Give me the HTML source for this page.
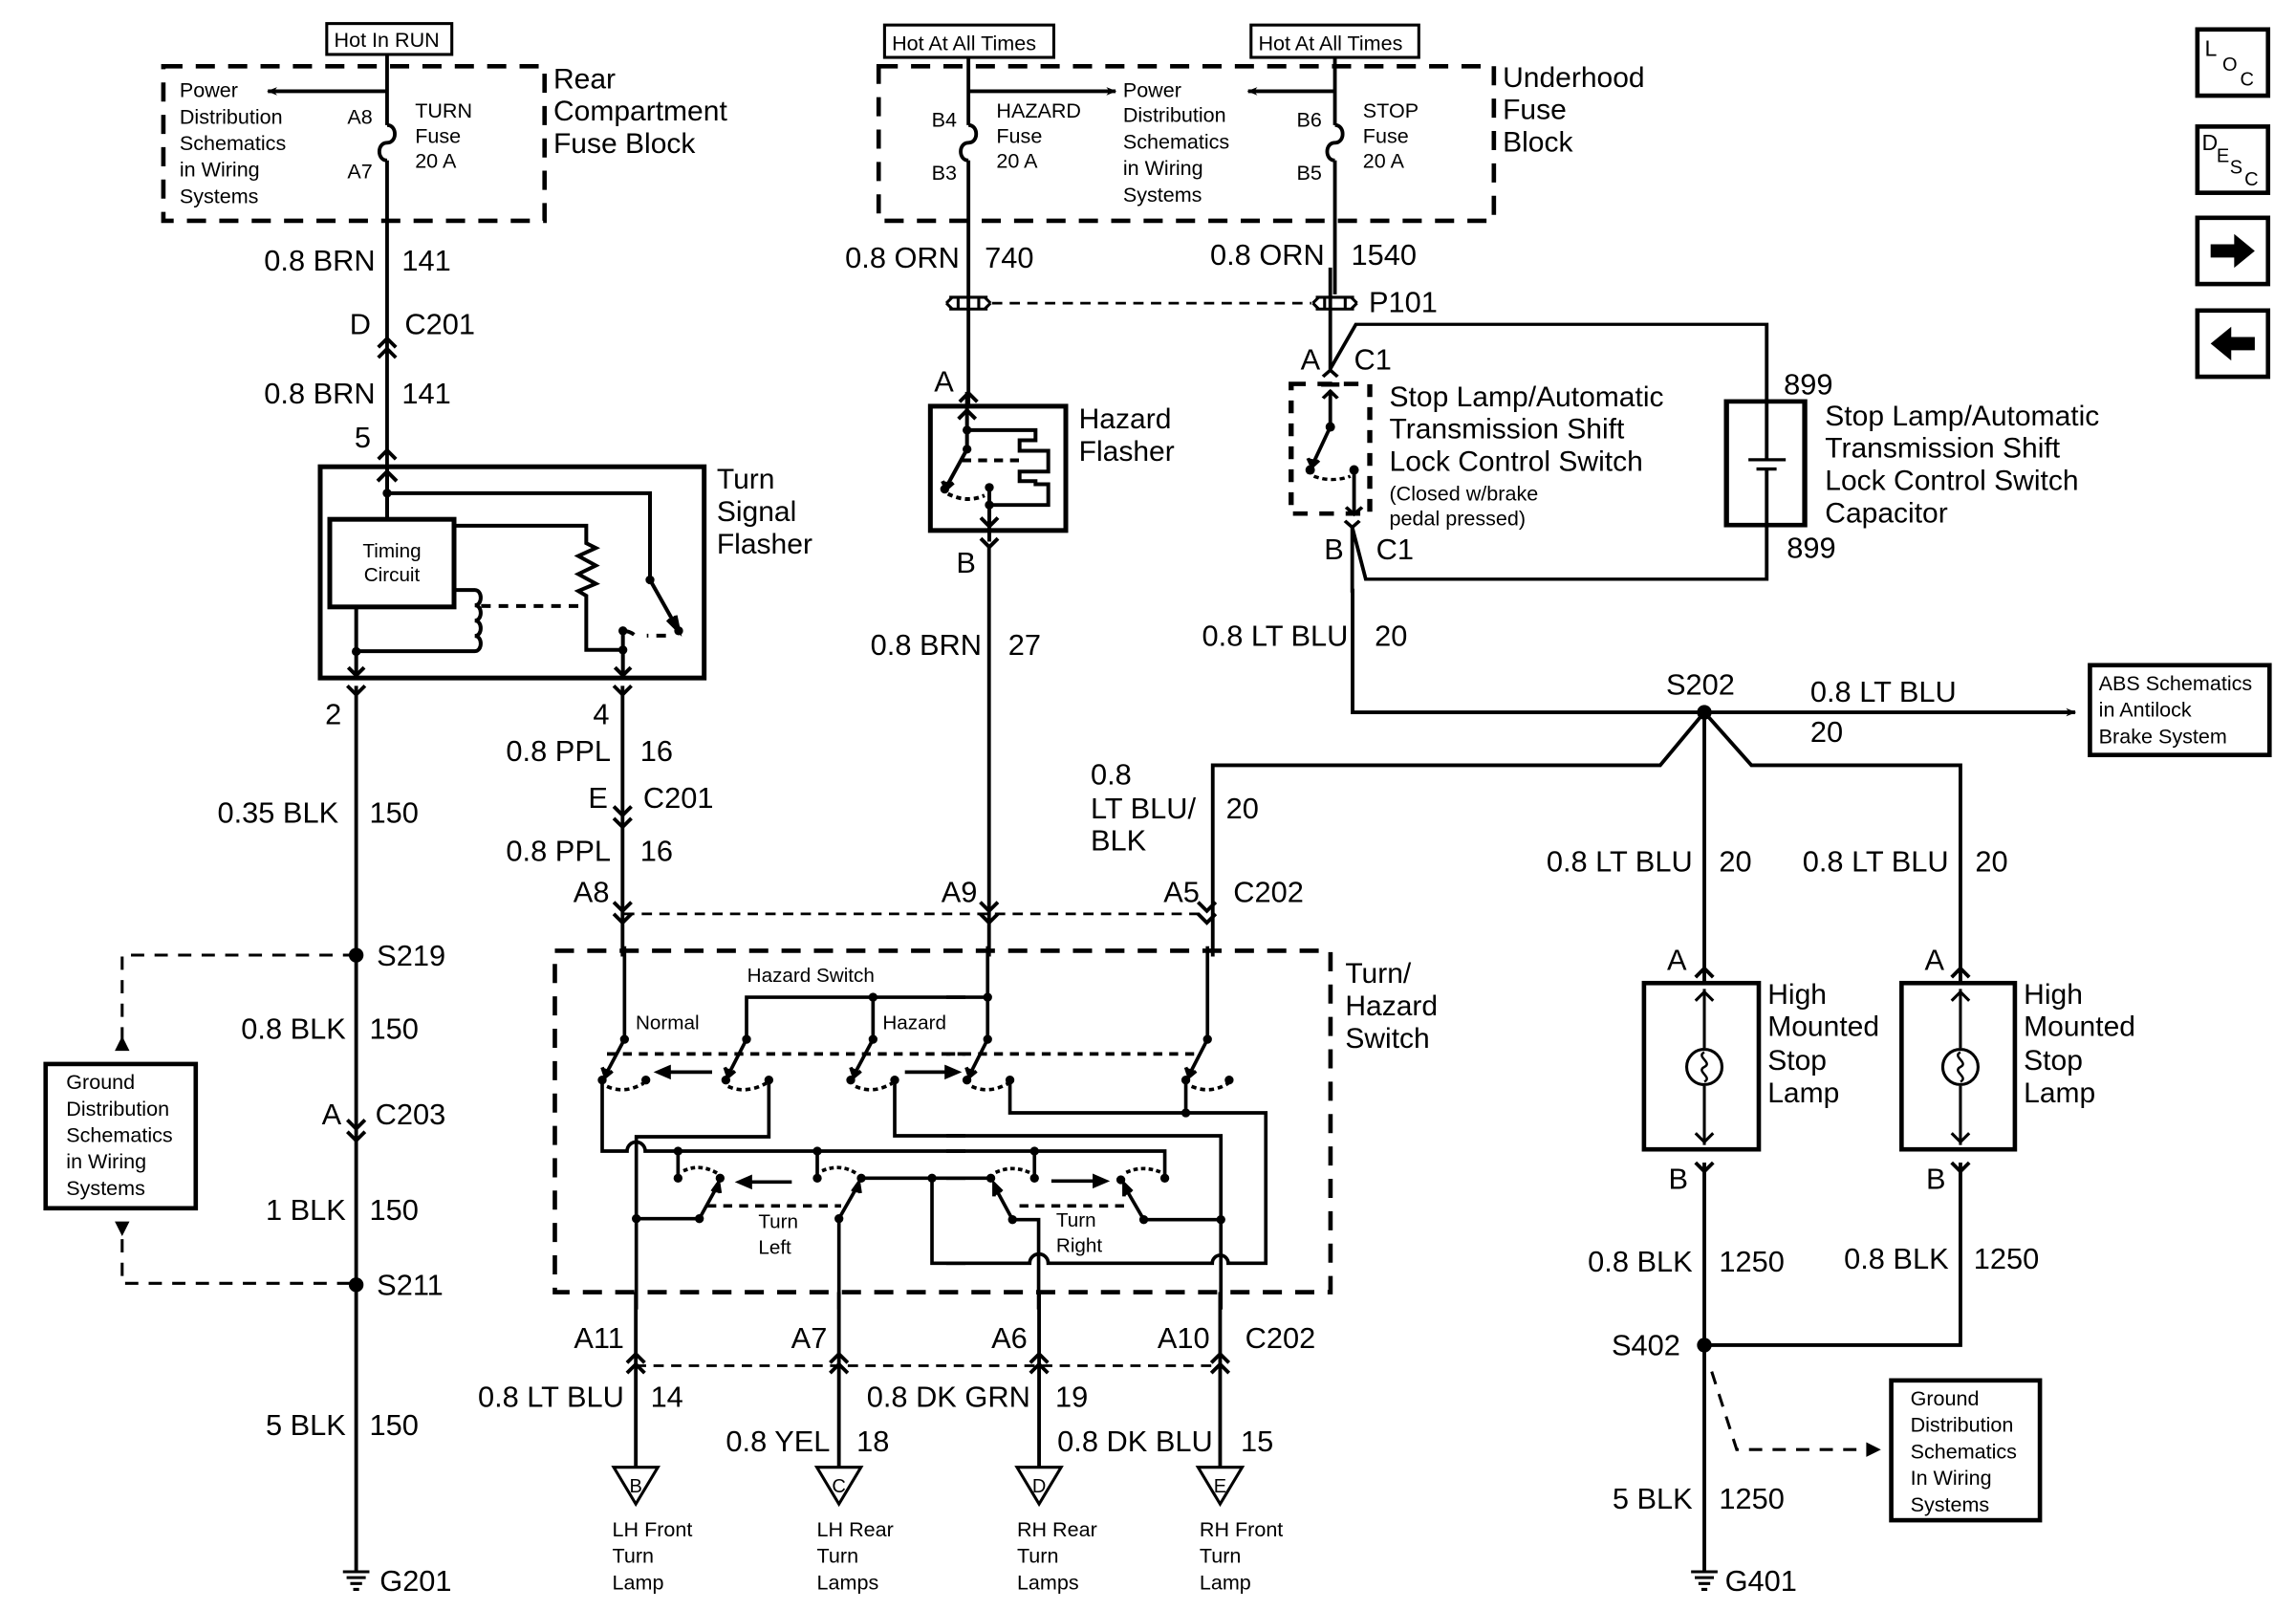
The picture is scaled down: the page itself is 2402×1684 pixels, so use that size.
<!DOCTYPE html>
<html><head><meta charset="utf-8">
<style>
html,body{margin:0;padding:0;background:#fff;}
svg{display:block;}
text{font-family:"Liberation Sans",Arial,sans-serif;fill:#000;stroke:none;}
.t20{font-size:20px;}
.t19{font-size:19.5px;}
.t14{font-size:14px;}
</style></head><body>
<svg width="2402" height="1684" viewBox="0 0 1560 1094" preserveAspectRatio="none" xmlns="http://www.w3.org/2000/svg">
<defs>
<marker id="ah" viewBox="0 0 10 10" refX="9" refY="5" markerWidth="7" markerHeight="7" orient="auto" markerUnits="userSpaceOnUse"><path d="M0,1 L10,5 L0,9 L3,5 z" fill="#000"/></marker>
</defs>
<rect x="0" y="0" width="1560" height="1094" fill="#fff"/>
<g fill="none" stroke="#000" stroke-width="2.5">

<!-- ===== TOP LEFT FUSE BLOCK ===== -->
<rect x="222" y="16" width="85" height="21" stroke-width="2"/>
<rect x="111" y="45" width="259" height="105" stroke-width="3" stroke-dasharray="13 9"/>
<line x1="263" y1="37" x2="263" y2="85"/>
<line x1="263" y1="62" x2="182" y2="62" marker-end="url(#ah)"/>
<path d="M263 85 c7 0 7 12 0 12 c-7 0 -7 12 0 12"/>
<line x1="263" y1="109" x2="263" y2="320"/>
<path d="M257 236 l6 -6 l6 6 M257 243 l6 -6 l6 6" />
<path d="M257 312 l6 -6 l6 6"/>

<!-- ===== HAZARD / STOP FUSE BLOCK ===== -->
<rect x="601" y="17" width="115" height="22" stroke-width="2"/>
<rect x="850" y="17" width="114" height="22" stroke-width="2"/>
<rect x="597" y="45" width="418" height="105" stroke-width="3" stroke-dasharray="13 9"/>
<line x1="658" y1="39" x2="658" y2="85"/>
<line x1="658" y1="62" x2="758" y2="62" marker-end="url(#ah)"/>
<path d="M658 85 c7 0 7 12 0 12 c-7 0 -7 12 0 12"/>
<line x1="658" y1="109" x2="658" y2="277"/>
<line x1="907" y1="39" x2="907" y2="85"/>
<line x1="907" y1="62" x2="848" y2="62" marker-end="url(#ah)"/>
<path d="M907 85 c7 0 7 12 0 12 c-7 0 -7 12 0 12"/>
<line x1="907" y1="109" x2="907" y2="200"/>
<!-- P101 connectors -->
<path d="M645 202 h26 M645 210 h26 M643 206 l4 -4 M643 206 l4 4 M673 206 l-4 -4 M673 206 l-4 4 M651 202 v8 M665 202 v8" stroke-width="2"/>
<path d="M894 202 h26 M894 210 h26 M892 206 l4 -4 M892 206 l4 4 M922 206 l-4 -4 M922 206 l-4 4 M900 202 v8 M914 202 v8" stroke-width="2"/>
<line x1="674" y1="206" x2="891" y2="206" stroke-width="1.8" stroke-dasharray="7 5"/>
<path d="M652 273 l6 -6 l6 6" />

<!-- ===== TURN SIGNAL FLASHER (zoom8 coords) ===== -->
<g transform="matrix(0.21649 0 0 0.21649 214.32 311.74)" stroke-width="12">
<rect x="15" y="25" width="1205" height="663" stroke-width="15"/>
<rect x="45" y="190" width="390" height="275" stroke-width="15"/>
<line x1="225" y1="25" x2="225" y2="190"/>
<path d="M195 70 l30 -30 l30 30"/>
<path d="M225 108 H1050 V380"/>
<line x1="1050" y1="380" x2="1140" y2="540"/>
<path d="M1105 505 L1140 540 L1130 492" fill="#000"/>
<line x1="1100" y1="555" x2="1040" y2="555" stroke-dasharray="30 25"/>
<path d="M965 540 q20 0 35 12"/>
<path d="M435 210 H850 V265 L880 280 L825 305 L880 335 L825 362 L880 392 L825 415 L850 430 V600 H965"/>
<line x1="965" y1="540" x2="965" y2="688"/>
<path d="M940 655 l25 25 l25 -25"/>
<line x1="520" y1="462" x2="850" y2="462" stroke-dasharray="30 25"/>
<path d="M435 412 H500 c25 0 25 48 0 48 c25 0 25 48 0 48 c25 0 25 48 0 48 c25 0 25 48 0 48 H128"/>
<line x1="128" y1="465" x2="128" y2="688"/>
<path d="M103 655 l25 25 l25 -25"/>
<g fill="#000" stroke="none">
<circle cx="225" cy="108" r="14"/><circle cx="1050" cy="380" r="14"/><circle cx="1140" cy="540" r="14"/>
<circle cx="965" cy="540" r="14"/><circle cx="965" cy="600" r="14"/><circle cx="128" cy="605" r="14"/>
</g>
<text x="240" y="310" font-size="62" text-anchor="middle">Timing</text>
<text x="240" y="385" font-size="62" text-anchor="middle">Circuit</text>
</g>

<!-- pins below flasher -->
<path d="M236 466 l6 6 l6 -6"/>
<path d="M417 466 l6 6 l6 -6"/>
<line x1="242" y1="466" x2="242" y2="1068"/>
<line x1="423" y1="466" x2="423" y2="650"/>
<path d="M417 548 l6 6 l6 -6 M417 556 l6 6 l6 -6"/>
<path d="M236 761 l6 6 l6 -6 M236 769 l6 6 l6 -6"/>
<circle cx="242" cy="649" r="5" fill="#000" stroke="none"/>
<circle cx="242" cy="873" r="5" fill="#000" stroke="none"/>
<!-- G201 -->
<path d="M233 1068 h18 M235.5 1072 h13 M238 1076 h8 M240 1080 h4" stroke-width="2"/>
<!-- ground distribution left -->
<rect x="31" y="723" width="102" height="98" stroke-width="3"/>
<path d="M242 649 H83 V712" stroke-width="2" stroke-dasharray="9 7"/>
<path d="M78 714 l5 -10 l5 10 z" fill="#000" stroke="none"/>
<path d="M83 842 V872 H242" stroke-width="2" stroke-dasharray="9 7"/>
<path d="M78 830 l5 10 l5 -10 z" fill="#000" stroke="none"/>

<!-- ===== HAZARD FLASHER (zoom5 coords) ===== -->
<g transform="matrix(0.21649 0 0 0.21649 623.48 266.28)" stroke-width="12">
<rect x="40" y="45" width="425" height="390" stroke-width="15"/>
<line x1="155" y1="0" x2="155" y2="180"/>
<path d="M128 85 l27 -27 l27 27"/>
<path d="M155 120 H370 V152 H320 V185 H410 V250 H320 V280 H370 V290 H410 V355 H225"/>
<line x1="140" y1="215" x2="320" y2="215" stroke-dasharray="28 22"/>
<line x1="155" y1="180" x2="92" y2="295"/>
<path d="M78 280 L90 305 L112 285" fill="#000"/>
<path d="M95 320 q60 30 115 5" stroke-dasharray="16 12"/>
<line x1="225" y1="300" x2="225" y2="470"/>
<path d="M198 395 l27 27 l27 -27"/>
<path d="M198 460 l27 27 l27 -27"/>
<g fill="#000" stroke="none">
<circle cx="155" cy="120" r="14"/><circle cx="155" cy="180" r="14"/><circle cx="85" cy="305" r="14"/>
<circle cx="225" cy="300" r="14"/><circle cx="225" cy="355" r="14"/>
</g>
</g>
<line x1="672" y1="370" x2="672" y2="650"/>
<path d="M666 613 l6 6 l6 -6 M666 621 l6 6 l6 -6"/>
<path d="M417 613 l6 6 l6 -6 M417 621 l6 6 l6 -6"/>
<path d="M814 613 l6 6 l6 -6 M814 621 l6 6 l6 -6"/>
<line x1="424" y1="621" x2="820" y2="621" stroke-width="1.8" stroke-dasharray="7 5"/>

<!-- ===== STOP LAMP SWITCH + CAPACITOR (zoom4 coords, x 2.613 / y 3) ===== -->
<g transform="matrix(0.24855 0 0 0.2165 870.3 181.85)" stroke-width="10">
<line x1="135" y1="0" x2="135" y2="320"/>
<path d="M135 318 L205 178 H1328 V420"/>
<rect x="1218" y="420" width="214" height="388" stroke-width="14"/>
<path d="M1328 420 V603 M1278 603 H1380 M1300 632 H1355 M1328 632 V808"/>
<path d="M1328 808 V978 H232 L195 815"/>
<path d="M115 342 l20 -20 l20 20"/>
<rect x="28" y="365" width="215" height="407" stroke-width="14" stroke-dasharray="40 32"/>
<path d="M110 367 H160"  stroke-width="14"/>
<line x1="135" y1="385" x2="135" y2="500"/>
<path d="M115 410 l20 -22 l20 22"/>
<line x1="135" y1="500" x2="88" y2="615"/>
<path d="M74 598 L85 625 L104 605" fill="#000"/>
<path d="M90 655 q50 20 100 0" stroke-dasharray="14 10"/>
<line x1="200" y1="635" x2="200" y2="775"/>
<path d="M178 752 l22 22 l22 -22"/>
<path d="M175 795 l20 20 l20 -20"/>
<line x1="195" y1="815" x2="195" y2="1020"/>
<g fill="#000" stroke="none">
<ellipse cx="135" cy="500" rx="13" ry="15"/><ellipse cx="80" cy="635" rx="13" ry="15"/><ellipse cx="200" cy="635" rx="13" ry="15"/>
</g>
</g>
<path d="M919 400 V484 H1158"/>
<line x1="1158" y1="484" x2="1410" y2="484" marker-end="url(#ah)"/>
<rect x="1420" y="452" width="122" height="61" stroke-width="3"/>
<circle cx="1158" cy="484" r="5" fill="#000" stroke="none"/>
<path d="M1158 484 L1128 520 H824 V650"/>
<path d="M1158 484 L1190 520 H1332 V668"/>
<line x1="1158" y1="484" x2="1158" y2="668"/>
<!-- lamps -->
<rect x="1117" y="668" width="78" height="113" stroke-width="3"/>
<rect x="1292" y="668" width="77" height="113" stroke-width="3"/>
<path d="M1152 664 l6 -6 l6 6 M1326 664 l6 -6 l6 6"/>
<path d="M1158 672 V712 M1158 738 V778 M1152 680 l6 -6 l6 6 M1152 770 l6 6 l6 -6" stroke-width="2"/>
<path d="M1332 672 V712 M1332 738 V778 M1326 680 l6 -6 l6 6 M1326 770 l6 6 l6 -6" stroke-width="2"/>
<circle cx="1158" cy="725" r="12" stroke-width="2"/>
<circle cx="1332" cy="725" r="12" stroke-width="2"/>
<path d="M1158 715 c-6 3 6 7 0 10 c-6 3 6 7 0 10" stroke-width="1.6"/>
<path d="M1332 715 c-6 3 6 7 0 10 c-6 3 6 7 0 10" stroke-width="1.6"/>
<path d="M1152 790 l6 6 l6 -6 M1326 790 l6 6 l6 -6"/>
<line x1="1158" y1="790" x2="1158" y2="1068"/>
<path d="M1332 790 V914 H1158"/>
<circle cx="1158" cy="914" r="5" fill="#000" stroke="none"/>
<path d="M1163 932 L1180 985 H1272" stroke-width="2" stroke-dasharray="9 7"/>
<path d="M1268 980 l10 5 l-10 5 z" fill="#000" stroke="none"/>
<rect x="1285" y="938" width="101" height="95" stroke-width="3"/>
<path d="M1149 1068 h18 M1151.5 1072 h13 M1154 1076 h8 M1156 1080 h4" stroke-width="2"/>

<!-- ===== TURN/HAZARD SWITCH ===== -->
<rect x="377" y="646" width="527" height="232" stroke-width="3" stroke-dasharray="13 9"/>
<g transform="matrix(0.21649 0 0 0.21649 376.69 642.97)" stroke-width="11">
<line x1="220" y1="0" x2="220" y2="292"/>
<line x1="220" y1="292" x2="165" y2="395"/>
<path d="M150 380 L160 410 L182 392" fill="#000"/>
<path d="M165 440 Q220 465 280 430" stroke-dasharray="16 12"/>
<line x1="495" y1="395" x2="345" y2="395"/>
<path d="M360 380 L325 395 L360 410 z" fill="#000"/>
<path d="M603 292 V160 H1290"/>
<line x1="1000" y1="160" x2="1000" y2="292"/>
<line x1="1000" y1="292" x2="945" y2="395"/>
<path d="M930 380 L940 410 L962 392" fill="#000"/>
<path d="M945 440 Q1000 465 1060 430" stroke-dasharray="16 12"/>
<line x1="603" y1="292" x2="550" y2="395"/>
<path d="M535 380 L545 410 L567 392" fill="#000"/>
<path d="M545 440 Q600 465 665 430" stroke-dasharray="16 12"/>
<line x1="165" y1="338" x2="1290" y2="338" stroke-dasharray="28 22"/>
<line x1="1100" y1="395" x2="1250" y2="395"/>
<path d="M1230 380 L1265 395 L1230 410 z" fill="#000"/>
<path d="M150 420 V643 H228 A28 28 0 0 1 285 643 H1290"/>
<path d="M673 420 V598 H257 V1140"/>
<path d="M1068 420 V595 H1290"/>
<path d="M388 643 V728 M825 643 V728"/>
<path d="M405 705 Q460 680 515 715" stroke-dasharray="14 10"/>
<path d="M840 705 Q900 680 950 715" stroke-dasharray="14 10"/>
<line x1="745" y1="740" x2="600" y2="740"/>
<path d="M615 725 L580 740 L615 755 z" fill="#000"/>
<line x1="455" y1="855" x2="510" y2="755"/>
<path d="M495 770 L515 742 L520 775" fill="#000"/>
<line x1="893" y1="855" x2="950" y2="755"/>
<path d="M935 770 L955 742 L960 775" fill="#000"/>
<path d="M257 855 H455"/>
<line x1="893" y1="855" x2="893" y2="1140"/>
<path d="M963 728 H1290"/>
<path d="M1185 728 V995 H1290"/>
<line x1="480" y1="815" x2="900" y2="815" stroke-dasharray="28 22"/>
<g fill="#000" stroke="none">
<circle cx="220" cy="292" r="14"/><circle cx="150" cy="420" r="14"/><circle cx="287" cy="420" r="14"/>
<circle cx="603" cy="292" r="14"/><circle cx="538" cy="420" r="14"/><circle cx="673" cy="420" r="14"/>
<circle cx="1000" cy="160" r="14"/><circle cx="1000" cy="292" r="14"/><circle cx="930" cy="420" r="14"/><circle cx="1068" cy="420" r="14"/>
<circle cx="388" cy="643" r="14"/><circle cx="825" cy="643" r="14"/><circle cx="388" cy="728" r="14"/><circle cx="825" cy="728" r="14"/>
<circle cx="520" cy="728" r="14"/><circle cx="963" cy="728" r="14"/><circle cx="455" cy="855" r="14"/><circle cx="893" cy="855" r="14"/>
<circle cx="257" cy="855" r="14"/><circle cx="1185" cy="728" r="14"/>
</g>
<text x="255" y="260" font-size="62">Normal</text>
<text x="605" y="112" font-size="62">Hazard Switch</text>
<text x="1030" y="260" font-size="62">Hazard</text>
<text x="640" y="885" font-size="62">Turn</text>
<text x="640" y="965" font-size="62">Left</text>
</g>
<g transform="matrix(0.21649 0 0 0.21649 642.9 642.97)" stroke-width="11">
<path d="M0 160 H130"/>
<line x1="130" y1="0" x2="130" y2="292"/>
<line x1="130" y1="292" x2="78" y2="395"/>
<path d="M63 380 L73 410 L95 392" fill="#000"/>
<path d="M80 440 Q135 465 195 430" stroke-dasharray="16 12"/>
<line x1="820" y1="0" x2="820" y2="292"/>
<line x1="820" y1="292" x2="767" y2="395"/>
<path d="M752 380 L762 410 L784 392" fill="#000"/>
<path d="M770 440 Q830 465 885 430" stroke-dasharray="16 12"/>
<line x1="0" y1="338" x2="790" y2="338" stroke-dasharray="28 22"/>
<line x1="752" y1="420" x2="752" y2="523"/>
<path d="M200 420 V523 H1003 V995 H885 A25 25 0 0 0 835 995 H320 A28 28 0 0 0 262 995 H0"/>
<path d="M0 595 H862 V1140"/>
<path d="M0 643 H686 V728"/>
<path d="M277 643 V728"/>
<path d="M0 728 H140"/>
<path d="M155 710 Q210 685 265 712" stroke-dasharray="14 10"/>
<path d="M565 710 Q620 685 680 712" stroke-dasharray="14 10"/>
<line x1="330" y1="737" x2="480" y2="737"/>
<path d="M465 722 L500 737 L465 752 z" fill="#000"/>
<line x1="208" y1="858" x2="155" y2="760"/>
<path d="M150 785 L150 745 L175 770" fill="#000"/>
<line x1="620" y1="858" x2="563" y2="760"/>
<path d="M558 785 L558 745 L583 770" fill="#000"/>
<path d="M208 858 H290 V1140"/>
<path d="M620 858 H862"/>
<line x1="230" y1="815" x2="560" y2="815" stroke-dasharray="28 22"/>
<g fill="#000" stroke="none">
<circle cx="130" cy="160" r="14"/><circle cx="130" cy="292" r="14"/><circle cx="65" cy="420" r="14"/><circle cx="200" cy="420" r="14"/>
<circle cx="820" cy="292" r="14"/><circle cx="752" cy="420" r="14"/><circle cx="888" cy="420" r="14"/><circle cx="752" cy="523" r="14"/>
<circle cx="277" cy="643" r="14"/><circle cx="277" cy="728" r="14"/><circle cx="686" cy="728" r="14"/>
<circle cx="140" cy="728" r="14"/><circle cx="548" cy="733" r="14"/>
<circle cx="208" cy="858" r="14"/><circle cx="620" cy="858" r="14"/><circle cx="862" cy="858" r="14"/>
</g>
<text x="345" y="880" font-size="62">Turn</text>
<text x="345" y="960" font-size="62">Right</text>
</g>

<!-- bottom connectors -->
<path d="M426 926 l6 -6 l6 6 M426 933 l6 -6 l6 6"/>
<path d="M564 926 l6 -6 l6 6 M564 933 l6 -6 l6 6"/>
<path d="M700 926 l6 -6 l6 6 M700 933 l6 -6 l6 6"/>
<path d="M823 926 l6 -6 l6 6 M823 933 l6 -6 l6 6"/>
<line x1="432" y1="928" x2="829" y2="928" stroke-width="1.8" stroke-dasharray="7 5"/>
<path d="M432 878 V997 M570 878 V997 M706 878 V997 M829 878 V997"/>
<path d="M417 997 H447 L432 1022 Z M555 997 H585 L570 1022 Z M691 997 H721 L706 1022 Z M814 997 H844 L829 1022 Z" stroke-width="2"/>

<!-- right icons -->
<rect x="1493" y="20" width="48" height="45" stroke-width="3"/>
<rect x="1493" y="86" width="48" height="45" stroke-width="3"/>
<rect x="1493" y="148" width="48" height="45" stroke-width="3"/>
<rect x="1493" y="211" width="48" height="45" stroke-width="3"/>
<path d="M1502 166 H1518 V159 L1532 170.5 L1518 182 V175 H1502 Z" fill="#000" stroke="none"/>
<path d="M1532 229 H1516 V222 L1502 233.5 L1516 245 V238 H1532 Z" fill="#000" stroke="none"/>
</g>

<!-- ===== TEXT ===== -->
<g class="t14">
<text x="227" y="32">Hot In RUN</text>
<text x="606" y="34">Hot At All Times</text>
<text x="855" y="34">Hot At All Times</text>
<text x="122" y="66">Power</text><text x="122" y="84">Distribution</text><text x="122" y="102">Schematics</text><text x="122" y="120">in Wiring</text><text x="122" y="138">Systems</text>
<text x="236" y="84">A8</text><text x="236" y="121">A7</text>
<text x="282" y="80">TURN</text><text x="282" y="97">Fuse</text><text x="282" y="114">20 A</text>
<text x="633" y="86">B4</text><text x="633" y="122">B3</text>
<text x="677" y="80">HAZARD</text><text x="677" y="97">Fuse</text><text x="677" y="114">20 A</text>
<text x="763" y="66">Power</text><text x="763" y="83">Distribution</text><text x="763" y="101">Schematics</text><text x="763" y="119">in Wiring</text><text x="763" y="137">Systems</text>
<text x="881" y="86">B6</text><text x="881" y="122">B5</text>
<text x="926" y="80">STOP</text><text x="926" y="97">Fuse</text><text x="926" y="114">20 A</text>
<text x="944" y="340">(Closed w/brake</text><text x="944" y="357">pedal pressed)</text>
<text x="45" y="740">Ground</text><text x="45" y="758">Distribution</text><text x="45" y="776">Schematics</text><text x="45" y="794">in Wiring</text><text x="45" y="812">Systems</text>
<text x="1426" y="469">ABS Schematics</text><text x="1426" y="487">in Antilock</text><text x="1426" y="505">Brake System</text>
<text x="1298" y="955">Ground</text><text x="1298" y="973">Distribution</text><text x="1298" y="991">Schematics</text><text x="1298" y="1009">In Wiring</text><text x="1298" y="1027">Systems</text>
<text x="416" y="1044">LH Front</text><text x="416" y="1062">Turn</text><text x="416" y="1080">Lamp</text>
<text x="555" y="1044">LH Rear</text><text x="555" y="1062">Turn</text><text x="555" y="1080">Lamps</text>
<text x="691" y="1044">RH Rear</text><text x="691" y="1062">Turn</text><text x="691" y="1080">Lamps</text>
<text x="815" y="1044">RH Front</text><text x="815" y="1062">Turn</text><text x="815" y="1080">Lamp</text>
<text x="432" y="1014" text-anchor="middle" font-size="13">B</text>
<text x="570" y="1014" text-anchor="middle" font-size="13">C</text>
<text x="706" y="1014" text-anchor="middle" font-size="13">D</text>
<text x="829" y="1014" text-anchor="middle" font-size="13">E</text>
</g>
<g class="t19">
<text x="376" y="60">Rear</text><text x="376" y="82">Compartment</text><text x="376" y="104">Fuse Block</text>
<text x="1021" y="59">Underhood</text><text x="1021" y="81">Fuse</text><text x="1021" y="103">Block</text>
<text x="487" y="332">Turn</text><text x="487" y="354">Signal</text><text x="487" y="376">Flasher</text>
<text x="733" y="291">Hazard</text><text x="733" y="313">Flasher</text>
<text x="944" y="276">Stop Lamp/Automatic</text><text x="944" y="298">Transmission Shift</text><text x="944" y="320">Lock Control Switch</text>
<text x="1240" y="289">Stop Lamp/Automatic</text><text x="1240" y="311">Transmission Shift</text><text x="1240" y="333">Lock Control Switch</text><text x="1240" y="355">Capacitor</text>
<text x="914" y="668">Turn/</text><text x="914" y="690">Hazard</text><text x="914" y="712">Switch</text>
<text x="1201" y="682">High</text><text x="1201" y="704">Mounted</text><text x="1201" y="727">Stop</text><text x="1201" y="749">Lamp</text>
<text x="1375" y="682">High</text><text x="1375" y="704">Mounted</text><text x="1375" y="727">Stop</text><text x="1375" y="749">Lamp</text>
</g>
<g class="t20">
<text x="255" y="184" text-anchor="end">0.8 BRN</text><text x="273" y="184">141</text>
<text x="252" y="227" text-anchor="end">D</text><text x="275" y="227">C201</text>
<text x="255" y="274" text-anchor="end">0.8 BRN</text><text x="273" y="274">141</text>
<text x="252" y="304" text-anchor="end">5</text>
<text x="232" y="492" text-anchor="end">2</text>
<text x="414" y="492" text-anchor="end">4</text>
<text x="230" y="559" text-anchor="end">0.35 BLK</text><text x="251" y="559">150</text>
<text x="256" y="656">S219</text>
<text x="235" y="706" text-anchor="end">0.8 BLK</text><text x="251" y="706">150</text>
<text x="232" y="764" text-anchor="end">A</text><text x="255" y="764">C203</text>
<text x="235" y="829" text-anchor="end">1 BLK</text><text x="251" y="829">150</text>
<text x="256" y="880">S211</text>
<text x="235" y="975" text-anchor="end">5 BLK</text><text x="251" y="975">150</text>
<text x="258" y="1081">G201</text>
<text x="415" y="517" text-anchor="end">0.8 PPL</text><text x="435" y="517">16</text>
<text x="413" y="549" text-anchor="end">E</text><text x="437" y="549">C201</text>
<text x="415" y="585" text-anchor="end">0.8 PPL</text><text x="435" y="585">16</text>
<text x="414" y="613" text-anchor="end">A8</text>
<text x="652" y="182" text-anchor="end">0.8 ORN</text><text x="669" y="182">740</text>
<text x="900" y="180" text-anchor="end">0.8 ORN</text><text x="918" y="180">1540</text>
<text x="930" y="212">P101</text>
<text x="648" y="266" text-anchor="end">A</text>
<text x="663" y="389" text-anchor="end">B</text>
<text x="667" y="445" text-anchor="end">0.8 BRN</text><text x="685" y="445">27</text>
<text x="664" y="613" text-anchor="end">A9</text>
<text x="897" y="251" text-anchor="end">A</text><text x="920" y="251">C1</text>
<text x="913" y="380" text-anchor="end">B</text><text x="935" y="380">C1</text>
<text x="1212" y="268">899</text><text x="1214" y="379">899</text>
<text x="916" y="439" text-anchor="end">0.8 LT BLU</text><text x="934" y="439">20</text>
<text x="1132" y="472">S202</text>
<text x="1230" y="477">0.8 LT BLU</text><text x="1230" y="504">20</text>
<text x="741" y="533">0.8</text><text x="741" y="556">LT BLU/</text><text x="741" y="578">BLK</text>
<text x="833" y="556">20</text>
<text x="815" y="613" text-anchor="end">A5</text><text x="838" y="613">C202</text>
<text x="1150" y="592" text-anchor="end">0.8 LT BLU</text><text x="1168" y="592">20</text>
<text x="1324" y="592" text-anchor="end">0.8 LT BLU</text><text x="1342" y="592">20</text>
<text x="1146" y="659" text-anchor="end">A</text><text x="1321" y="659" text-anchor="end">A</text>
<text x="1147" y="808" text-anchor="end">B</text><text x="1322" y="808" text-anchor="end">B</text>
<text x="1150" y="864" text-anchor="end">0.8 BLK</text><text x="1168" y="864">1250</text>
<text x="1324" y="862" text-anchor="end">0.8 BLK</text><text x="1341" y="862">1250</text>
<text x="1095" y="921">S402</text>
<text x="1150" y="1025" text-anchor="end">5 BLK</text><text x="1168" y="1025">1250</text>
<text x="1172" y="1081">G401</text>
<text x="424" y="916" text-anchor="end">A11</text>
<text x="562" y="916" text-anchor="end">A7</text>
<text x="698" y="916" text-anchor="end">A6</text>
<text x="822" y="916" text-anchor="end">A10</text><text x="846" y="916">C202</text>
<text x="424" y="956" text-anchor="end">0.8 LT BLU</text><text x="442" y="956">14</text>
<text x="564" y="986" text-anchor="end">0.8 YEL</text><text x="582" y="986">18</text>
<text x="700" y="956" text-anchor="end">0.8 DK GRN</text><text x="717" y="956">19</text>
<text x="824" y="986" text-anchor="end">0.8 DK BLU</text><text x="843" y="986">15</text>
</g>
<g font-size="15">
<text x="1498" y="38">L</text><text x="1510" y="48" font-size="13">O</text><text x="1522" y="58" font-size="13">C</text>
<text x="1496" y="102">D</text><text x="1506" y="110" font-size="13">E</text><text x="1515" y="118" font-size="13">S</text><text x="1525" y="126" font-size="13">C</text>
</g>
</svg>
</body></html>
